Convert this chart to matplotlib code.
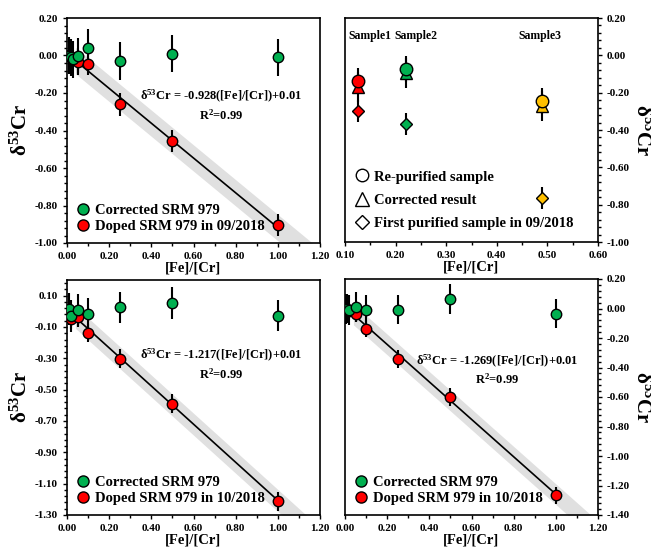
import numpy as np
import matplotlib
matplotlib.use("Agg")
import matplotlib.pyplot as plt
from matplotlib.ticker import MultipleLocator, AutoMinorLocator
from matplotlib.lines import Line2D

plt.rcParams["font.family"] = ["Liberation Serif", "DejaVu Serif"]
plt.rcParams["font.weight"] = "bold"
plt.rcParams["mathtext.fontset"] = "custom"
plt.rcParams["mathtext.rm"] = "Liberation Serif:bold"
plt.rcParams["mathtext.it"] = "Liberation Serif:bold"
plt.rcParams["mathtext.bf"] = "Liberation Serif:bold"
plt.rcParams["mathtext.default"] = "bf"

GREEN = "#00b050"
RED = "#ff0000"
YELLOW = "#ffc000"
YLAB = r"$\delta^{53}$Cr"

# panel a: 09/2018
a_green_x = [0.008, 0.02, 0.03, 0.05, 0.10, 0.25, 0.50, 1.00]
a_green_y = [0.00, -0.01, -0.02, -0.005, 0.04, -0.03, 0.01, -0.01]
a_red_x = [0.008, 0.05, 0.10, 0.25, 0.50, 1.00]
a_red_y = [0.005, -0.035, -0.045, -0.26, -0.455, -0.905]
a_slope = -0.928

# panel c: 10/2018
c_green_x = [0.008, 0.02, 0.05, 0.10, 0.25, 0.50, 1.00]
c_green_y = [0.015, -0.03, 0.009, -0.017, 0.026, 0.053, -0.027]
c_red_x = [0.02, 0.05, 0.10, 0.25, 0.50, 1.00]
c_red_y = [-0.05, -0.038, -0.138, -0.303, -0.59, -1.212]
c_slope = -1.217

# panel d: 10/2018
d_green_x = [0.005, 0.01, 0.02, 0.05, 0.10, 0.25, 0.50, 1.00]
d_green_y = [-0.005, 0.0, -0.01, 0.01, -0.01, -0.007, 0.063, -0.034]
d_red_x = [0.02, 0.05, 0.10, 0.25, 0.50, 1.00]
d_red_y = [-0.02, -0.034, -0.136, -0.34, -0.60, -1.267]
d_slope = -1.269

# panel b: samples
samp_x = [0.125, 0.22, 0.49]
samp_names = ["Sample1", "Sample2", "Sample3"]
samp_colors = [RED, GREEN, YELLOW]
repurified = [-0.137, -0.075, -0.243]
corrected = [-0.171, -0.093, -0.271]
first_pur = [-0.298, -0.368, -0.763]

fig = plt.figure(figsize=(6.51, 5.51), dpi=100)
W, H = 651, 551


def add_ax(l, r, t, b):
    return fig.add_axes([l / W, 1 - b / H, (r - l) / W, (b - t) / H])


def style(ax, ylo, yhi, ystep, right=False):
    ax.set_ylim(ylo, yhi)
    ax.yaxis.set_major_locator(MultipleLocator(ystep))
    ax.yaxis.set_minor_locator(AutoMinorLocator(5))
    ax.xaxis.set_minor_locator(AutoMinorLocator(2))
    ax.xaxis.set_major_formatter(plt.FuncFormatter(lambda v, p: f"{v:.2f}"))
    ax.yaxis.set_major_formatter(plt.FuncFormatter(lambda v, p: f"{v:.2f}"))
    ax.tick_params(which="both", direction="out", labelsize=8, width=1)
    ax.tick_params(which="major", length=3)
    ax.tick_params(which="minor", length=2)
    for s in ax.spines.values():
        s.set_linewidth(1.2)
    if right:
        ax.yaxis.tick_right()
        ax.yaxis.set_label_position("right")
        ax.set_ylabel(YLAB, fontsize=15, fontweight="bold", rotation=270, labelpad=16)
    else:
        ax.set_ylabel(YLAB, fontsize=15, fontweight="bold", labelpad=2)
    ax.set_xlabel("[Fe]/[Cr]", fontsize=10.5, fontweight="bold", labelpad=0)


def calib(ax, gx, gy, rx, ry, slope, ylo, yhi, ystep, month, eqpos, right=False):
    xs = np.array([0.04, 1.3])
    ax.fill_between(xs, slope * xs + 0.01 - 0.07, slope * xs + 0.01 + 0.07,
                    color="#e0e0e0", lw=0, zorder=1)
    xl = np.array([0.0, 1.0])
    ax.plot(xl, slope * xl + 0.01, color="black", lw=1.2, zorder=2)
    ax.errorbar(gx, gy, yerr=0.1, fmt="none", ecolor="black", elinewidth=1.5, zorder=3)
    ax.errorbar(rx, ry, yerr=0.06, fmt="none", ecolor="black", elinewidth=1.5, zorder=3)
    ax.plot(rx, ry, "o", ms=7.5, mfc=RED, mec="black", mew=1, zorder=4)
    ax.plot(gx, gy, "o", ms=7.5, mfc=GREEN, mec="black", mew=1, zorder=5)
    ax.set_xlim(0, 1.2)
    ax.xaxis.set_major_locator(MultipleLocator(0.2))
    style(ax, ylo, yhi, ystep, right)
    ax.text(eqpos[0], eqpos[1],
            r"$\delta^{53}$Cr" + f" = {slope:.3f}([Fe]/[Cr])+0.01\nR$^2$=0.99",
            ha="center", va="top", fontsize=9, fontweight="bold",
            linespacing=1.2, zorder=6)
    handles = [Line2D([], [], ls="", marker="o", ms=8, mfc=GREEN, mec="black"),
               Line2D([], [], ls="", marker="o", ms=8, mfc=RED, mec="black")]
    ax.legend(handles, ["Corrected SRM 979", f"Doped SRM 979 in {month}"],
              loc="lower left", frameon=False, handlelength=0.8,
              handletextpad=0.4, labelspacing=0.15, borderaxespad=0.3,
              prop={"weight": "bold", "size": 10.5})


ax1 = add_ax(67, 320, 18, 243)
calib(ax1, a_green_x, a_green_y, a_red_x, a_red_y, a_slope, -1.0, 0.2, 0.2,
      "09/2018", (0.73, -0.175))

ax3 = add_ax(67, 320, 280, 515)
calib(ax3, c_green_x, c_green_y, c_red_x, c_red_y, c_slope, -1.3, 0.2, 0.2,
      "10/2018", (0.73, -0.23))
ax3.yaxis.set_major_locator(MultipleLocator(0.2, offset=0.1))

ax4 = add_ax(345, 598, 279, 515)
calib(ax4, d_green_x, d_green_y, d_red_x, d_red_y, d_slope, -1.4, 0.2, 0.2,
      "10/2018", (0.72, -0.3), right=True)

# sample panel
ax2 = add_ax(345, 598, 18, 242)
for x, c, r1, r2, r3 in zip(samp_x, samp_colors, repurified, corrected, first_pur):
    ax2.errorbar([x], [r3], yerr=0.06, fmt="none", ecolor="black", elinewidth=1.5)
    ax2.errorbar([x], [r2], yerr=0.08, fmt="none", ecolor="black", elinewidth=1.5)
    ax2.errorbar([x], [r1], yerr=0.07, fmt="none", ecolor="black", elinewidth=1.5)
    ax2.plot([x], [r3], "D", ms=6.5, mfc=c, mec="black", mew=1)
    ax2.plot([x], [r2], "^", ms=9, mfc=c, mec="black", mew=1)
    ax2.plot([x], [r1], "o", ms=9, mfc=c, mec="black", mew=1)
for x, name in zip([0.149, 0.24, 0.485], samp_names):
    ax2.text(x, 0.105, name, ha="center", va="center", fontsize=8.5, fontweight="bold")
ax2.set_xlim(0.1, 0.6)
ax2.xaxis.set_major_locator(MultipleLocator(0.1))
style(ax2, -1.0, 0.2, 0.2, right=True)
handles = [Line2D([], [], ls="", marker="o", ms=9, mfc="white", mec="black"),
           Line2D([], [], ls="", marker="^", ms=10, mfc="white", mec="black"),
           Line2D([], [], ls="", marker="D", ms=7, mfc="white", mec="black")]
ax2.legend(handles, ["Re-purified sample", "Corrected result",
                     "First purified sample in 09/2018"],
           loc="lower left", frameon=False, handlelength=0.8, handletextpad=0.4,
           labelspacing=0.7, borderaxespad=0.4,
           prop={"weight": "bold", "size": 10.5})

fig.savefig("out.png", dpi=100)
